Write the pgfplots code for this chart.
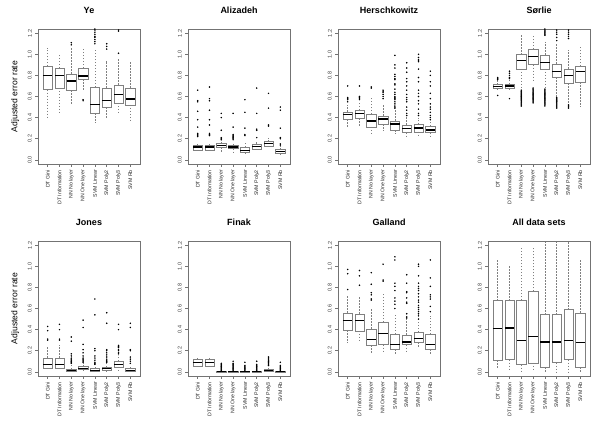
\documentclass[border=0pt]{standalone}
\usepackage{fontspec}
\setmainfont{Liberation Sans}
\usepackage{pgfplots}
\pgfplotsset{compat=1.18}
\usepgfplotslibrary{statistics}

\pgfplotsset{
  boxplot/draw/whisker/.code 2 args={%
    \draw[/pgfplots/boxplot/every whisker/.try, dash pattern=on 1.5pt off 1.5pt] (boxplot cs:#1) -- (boxplot cs:#2);
    \draw[/pgfplots/boxplot/every whisker/.try] (boxplot whisker cs:#1,0) -- (boxplot whisker cs:#1,1);
  },
  bxs/.style={
    draw=black!50, line width=0.45pt, solid,
    mark=*, mark size=0.5pt, mark options={draw=black, fill=black, solid},
    boxplot/draw direction=y,
    boxplot/box extend=0.8, boxplot/whisker extend=0.4,
    boxplot/every box/.style={draw=black!50},
    boxplot/every whisker/.style={draw=black!50},
    boxplot/every median/.style={draw=black, line width=1.3pt},
  },
  panel/.style={
    scale only axis, width=102pt, height=135pt,
    anchor=north west,
    xmin=0.18, xmax=8.82, ymin=-0.04, ymax=1.24,
    xtick={1,2,3,4,5,6,7,8},
    xticklabels={DT Gini, DT Information, NN No layer, NN One layer, SVM Linear, SVM Poly2, SVM Poly3, SVM Rb},
    ytick={0,0.2,0.4,0.6,0.8,1.0,1.2},
    /pgf/number format/assume math mode=true,
    yticklabel style={rotate=90, anchor=south, font=\fontsize{5.5}{6}\selectfont, text=black!75,
      /pgf/number format/.cd, fixed, fixed zerofill, precision=1},
    xticklabel style={rotate=90, anchor=east, font=\fontsize{5.2}{6}\selectfont, text=black!85},
    tick pos=left, tick align=outside, major tick length=2.7pt,
    axis line style={black!55, line width=0.5pt},
    every tick/.style={black!55, line width=0.5pt},
    title style={font=\bfseries\fontsize{9}{10}\selectfont, at={(0.5,1)}, anchor=base, yshift=10pt},
    ylabel style={font=\fontsize{8.6}{9}\selectfont, at={(axis description cs:-0.225,0.5)}, anchor=center},
  }
}
\newcommand{\bx}[7]{\addplot[bxs, boxplot prepared={draw position=#1, lower whisker=#2, lower quartile=#3, median=#4, upper quartile=#5, upper whisker=#6}] coordinates {#7};}

\begin{document}
\begin{tikzpicture}
\useasboundingbox (0,0) rectangle (600pt,-424pt);

% ---------- Ye
\begin{axis}[panel, at={(38pt,-29pt)}, title={Ye}, ylabel={Adjusted error rate}]
\bx{1}{0.39}{0.665}{0.796}{0.887}{1.06}{}
\bx{2}{0.43}{0.683}{0.796}{0.868}{1.00}{}
\bx{3}{0.533}{0.658}{0.746}{0.815}{1.06}{(0,1.09)(0,1.11)}
\bx{4}{0.65}{0.762}{0.793}{0.868}{1.05}{(0,0.56)(0,0.57)}
\bx{5}{0.345}{0.44}{0.527}{0.69}{1.053}{(0,1.10)(0,1.12)(0,1.14)(0,1.16)(0,1.17)(0,1.19)(0,1.21)(0,1.23)(0,1.24)}
\bx{6}{0.39}{0.50}{0.564}{0.683}{0.94}{(0,1.05)(0,1.075)(0,1.10)}
\bx{7}{0.433}{0.54}{0.617}{0.71}{0.956}{(0,1.01)(0,1.22)(0,1.23)}
\bx{8}{0.37}{0.52}{0.577}{0.683}{0.925}{}
\end{axis}

% ---------- Alizadeh
\begin{axis}[panel, at={(188pt,-29pt)}, title={Alizadeh}]
\bx{1}{0.078}{0.094}{0.122}{0.135}{0.15}{(0,0.22)(0,0.23)(0,0.24)(0,0.25)(0,0.31)(0,0.38)(0,0.46)(0,0.55)(0,0.56)(0,0.66)}
\bx{2}{0.078}{0.094}{0.122}{0.135}{0.15}{(0,0.23)(0,0.24)(0,0.25)(0,0.33)(0,0.38)(0,0.47)(0,0.56)(0,0.58)(0,0.69)}
\bx{3}{0.075}{0.119}{0.135}{0.153}{0.17}{(0,0.19)(0,0.20)(0,0.21)(0,0.28)(0,0.40)(0,0.44)}
\bx{4}{0.078}{0.107}{0.122}{0.138}{0.16}{(0,0.19)(0,0.20)(0,0.21)(0,0.22)(0,0.23)(0,0.24)(0,0.31)(0,0.44)}
\bx{5}{0.05}{0.069}{0.088}{0.119}{0.157}{(0,0.23)(0,0.24)(0,0.30)(0,0.45)(0,0.57)}
\bx{6}{0.078}{0.104}{0.128}{0.15}{0.176}{(0,0.21)(0,0.28)(0,0.29)(0,0.44)(0,0.68)}
\bx{7}{0.107}{0.132}{0.154}{0.176}{0.207}{(0,0.32)(0,0.33)(0,0.49)(0,0.63)}
\bx{8}{0.04}{0.06}{0.078}{0.10}{0.135}{(0,0.14)(0,0.15)(0,0.20)(0,0.21)(0,0.30)(0,0.47)(0,0.50)}
\end{axis}

% ---------- Herschkowitz
\begin{axis}[panel, at={(338pt,-29pt)}, title={Herschkowitz}]
\bx{1}{0.313}{0.382}{0.43}{0.455}{0.517}{(0,0.55)(0,0.57)(0,0.58)(0,0.59)(0,0.70)}
\bx{2}{0.31}{0.392}{0.44}{0.47}{0.55}{(0,0.57)(0,0.58)(0,0.59)(0,0.60)(0,0.70)}
\bx{3}{0.25}{0.313}{0.367}{0.433}{0.60}{(0,0.68)(0,0.69)}
\bx{4}{0.276}{0.339}{0.386}{0.417}{0.517}{(0,0.58)(0,0.60)(0,0.62)(0,0.64)(0,0.65)(0,0.66)}
\bx{5}{0.245}{0.282}{0.339}{0.37}{0.47}{(0,0.49)(0,0.50)(0,0.51)(0,0.53)(0,0.55)(0,0.57)(0,0.58)(0,0.59)(0,0.60)(0,0.62)(0,0.64)(0,0.67)(0,0.71)(0,0.72)(0,0.76)(0,0.77)(0,0.79)(0,0.81)(0,0.87)(0,0.90)(0,0.99)}
\bx{6}{0.226}{0.257}{0.298}{0.33}{0.41}{(0,0.42)(0,0.44)(0,0.47)(0,0.50)(0,0.55)(0,0.57)(0,0.59)(0,0.62)(0,0.66)(0,0.70)(0,0.74)(0,0.77)(0,0.83)(0,0.87)(0,0.92)}
\bx{7}{0.235}{0.266}{0.30}{0.335}{0.40}{(0,0.42)(0,0.44)(0,0.48)(0,0.53)(0,0.56)(0,0.60)(0,0.63)(0,0.66)(0,0.74)(0,0.78)(0,0.86)(0,0.93)(0,0.94)(0,0.95)(0,0.97)(0,1.00)}
\bx{8}{0.226}{0.257}{0.282}{0.32}{0.376}{(0,0.38)(0,0.40)(0,0.42)(0,0.45)(0,0.48)(0,0.50)(0,0.53)(0,0.58)(0,0.63)(0,0.70)(0,0.74)(0,0.80)(0,0.84)}
\end{axis}

% ---------- Sorlie
\begin{axis}[panel, at={(488pt,-29pt)}, title={Sørlie}]
\bx{1}{0.658}{0.674}{0.696}{0.712}{0.752}{(0,0.61)(0,0.76)(0,0.77)(0,0.78)}
\bx{2}{0.658}{0.677}{0.70}{0.715}{0.752}{(0,0.58)(0,0.77)(0,0.78)(0,0.80)(0,0.82)(0,0.84)}
\bx{3}{0.665}{0.862}{0.94}{0.997}{1.18}{(0,0.51)(0,0.52)(0,0.53)(0,0.54)(0,0.55)(0,0.56)(0,0.57)(0,0.58)(0,0.59)(0,0.60)(0,0.61)(0,0.62)(0,0.63)(0,0.64)(0,0.65)(0,0.66)}
\bx{4}{0.743}{0.903}{0.978}{1.05}{1.18}{(0,0.54)(0,0.55)(0,0.56)(0,0.57)(0,0.58)(0,0.59)(0,0.60)(0,0.61)(0,0.62)(0,0.63)(0,0.64)(0,0.65)(0,0.66)(0,0.67)(0,0.68)}
\bx{5}{0.674}{0.862}{0.925}{0.994}{1.12}{(0,0.51)(0,0.52)(0,0.53)(0,0.54)(0,0.55)(0,0.56)(0,0.57)(0,0.58)(0,0.59)(0,0.60)(0,0.61)(0,0.62)(0,0.63)(0,0.64)(0,0.65)(0,0.66)(0,0.67)(0,1.18)(0,1.19)(0,1.20)(0,1.21)(0,1.22)(0,1.23)(0,1.24)}
\bx{6}{0.595}{0.784}{0.84}{0.91}{1.10}{(0,0.49)(0,0.50)(0,0.51)(0,0.52)(0,0.53)(0,0.54)(0,0.55)(0,0.56)(0,0.57)(0,0.58)(0,0.59)(0,1.13)(0,1.16)(0,1.19)(0,1.21)(0,1.23)}
\bx{7}{0.533}{0.727}{0.80}{0.862}{1.04}{(0,0.49)(0,0.50)(0,0.51)(0,0.52)(0,1.15)(0,1.17)(0,1.19)(0,1.21)(0,1.23)}
\bx{8}{0.508}{0.737}{0.84}{0.887}{1.07}{}
\end{axis}

% ---------- Jones
\begin{axis}[panel, at={(38pt,-241pt)}, title={Jones}, ylabel={Adjusted error rate}]
\bx{1}{0.02}{0.038}{0.069}{0.132}{0.235}{(0,0.30)(0,0.31)(0,0.39)(0,0.43)}
\bx{2}{0.02}{0.038}{0.069}{0.132}{0.25}{(0,0.30)(0,0.31)(0,0.40)(0,0.45)}
\bx{3}{0}{0.006}{0.013}{0.025}{0.07}{(0,0.08)(0,0.09)(0,0.10)(0,0.11)(0,0.12)(0,0.13)(0,0.15)(0,0.17)(0,0.29)(0,0.33)}
\bx{4}{0}{0.02}{0.03}{0.05}{0.08}{(0,0.09)(0,0.10)(0,0.11)(0,0.12)(0,0.13)(0,0.15)(0,0.18)(0,0.21)(0,0.26)(0,0.42)(0,0.49)}
\bx{5}{0}{0.006}{0.013}{0.03}{0.056}{(0,0.07)(0,0.08)(0,0.09)(0,0.11)(0,0.13)(0,0.15)(0,0.20)(0,0.22)(0,0.54)(0,0.69)}
\bx{6}{0}{0.013}{0.03}{0.044}{0.08}{(0,0.09)(0,0.10)(0,0.11)(0,0.12)(0,0.14)(0,0.16)(0,0.18)(0,0.20)(0,0.21)(0,0.46)(0,0.56)}
\bx{7}{0.013}{0.047}{0.069}{0.10}{0.157}{(0,0.17)(0,0.18)(0,0.20)(0,0.21)(0,0.23)(0,0.24)(0,0.25)(0,0.40)(0,0.45)}
\bx{8}{0}{0.006}{0.013}{0.03}{0.056}{(0,0.08)(0,0.10)(0,0.12)(0,0.14)(0,0.20)(0,0.21)(0,0.42)(0,0.46)}
\end{axis}

% ---------- Finak
\begin{axis}[panel, at={(188pt,-241pt)}, title={Finak}]
\bx{1}{0.038}{0.056}{0.088}{0.12}{0.147}{}
\bx{2}{0.038}{0.056}{0.088}{0.12}{0.147}{}
\bx{3}{0}{0}{0}{0.003}{0.006}{(0,0.01)(0,0.02)(0,0.03)(0,0.04)(0,0.05)(0,0.06)(0,0.07)(0,0.08)}
\bx{4}{0}{0}{0}{0.003}{0.006}{(0,0.01)(0,0.02)(0,0.03)(0,0.04)(0,0.05)(0,0.06)(0,0.07)(0,0.08)(0,0.10)}
\bx{5}{0}{0}{0}{0.003}{0.006}{(0,0.01)(0,0.02)(0,0.03)(0,0.04)(0,0.05)(0,0.06)(0,0.09)}
\bx{6}{0}{0}{0}{0.003}{0.006}{(0,0.01)(0,0.02)(0,0.03)(0,0.04)(0,0.05)(0,0.06)(0,0.07)(0,0.10)}
\bx{7}{0}{0.006}{0.013}{0.025}{0.05}{(0,0.06)(0,0.07)(0,0.08)(0,0.09)(0,0.10)(0,0.11)(0,0.12)(0,0.13)(0,0.14)}
\bx{8}{0}{0}{0}{0.003}{0.006}{(0,0.01)(0,0.02)(0,0.03)(0,0.04)(0,0.05)(0,0.06)(0,0.09)}
\end{axis}

% ---------- Galland
\begin{axis}[panel, at={(338pt,-241pt)}, title={Galland}]
\bx{1}{0.276}{0.392}{0.486}{0.558}{0.715}{(0,0.78)(0,0.93)(0,0.97)}
\bx{2}{0.276}{0.389}{0.486}{0.549}{0.705}{(0,0.82)(0,0.91)(0,0.96)}
\bx{3}{0.172}{0.25}{0.304}{0.408}{0.605}{(0,0.68)(0,0.69)(0,0.73)(0,0.75)(0,0.83)(0,0.94)}
\bx{4}{0.172}{0.257}{0.36}{0.47}{0.752}{(0,0.86)(0,0.87)(0,1.02)}
\bx{5}{0.172}{0.213}{0.26}{0.357}{0.549}{(0,0.60)(0,0.64)(0,0.67)(0,0.70)(0,0.77)(0,0.81)(0,0.84)(0,1.06)(0,1.09)}
\bx{6}{0.188}{0.257}{0.282}{0.351}{0.50}{(0,0.51)(0,0.52)(0,0.55)(0,0.65)(0,0.66)(0,0.70)(0,0.75)(0,0.76)(0,0.84)(0,0.92)}
\bx{7}{0.226}{0.282}{0.313}{0.376}{0.486}{(0,0.50)(0,0.53)(0,0.55)(0,0.57)(0,0.59)(0,0.61)(0,0.63)(0,0.66)(0,0.68)(0,0.71)(0,0.74)(0,0.77)(0,0.79)(0,0.81)(0,0.84)(0,0.91)(0,1.00)(0,1.02)}
\bx{8}{0.166}{0.213}{0.257}{0.357}{0.533}{(0,0.57)(0,0.62)(0,0.69)(0,0.71)(0,0.73)(0,0.81)(0,0.89)(0,1.06)}
\end{axis}

% ---------- All data sets
\begin{axis}[panel, at={(488pt,-241pt)}, title={All data sets}]
\bx{1}{0.025}{0.11}{0.408}{0.674}{1.06}{}
\bx{2}{0.025}{0.116}{0.414}{0.674}{1.00}{}
\bx{3}{0}{0.069}{0.298}{0.68}{1.18}{}
\bx{4}{0}{0.085}{0.335}{0.762}{1.18}{}
\bx{5}{0}{0.041}{0.282}{0.542}{1.23}{}
\bx{6}{0}{0.088}{0.282}{0.542}{1.23}{}
\bx{7}{0}{0.116}{0.298}{0.59}{1.23}{}
\bx{8}{0}{0.041}{0.276}{0.558}{1.06}{}
\end{axis}
\end{tikzpicture}
\end{document}
